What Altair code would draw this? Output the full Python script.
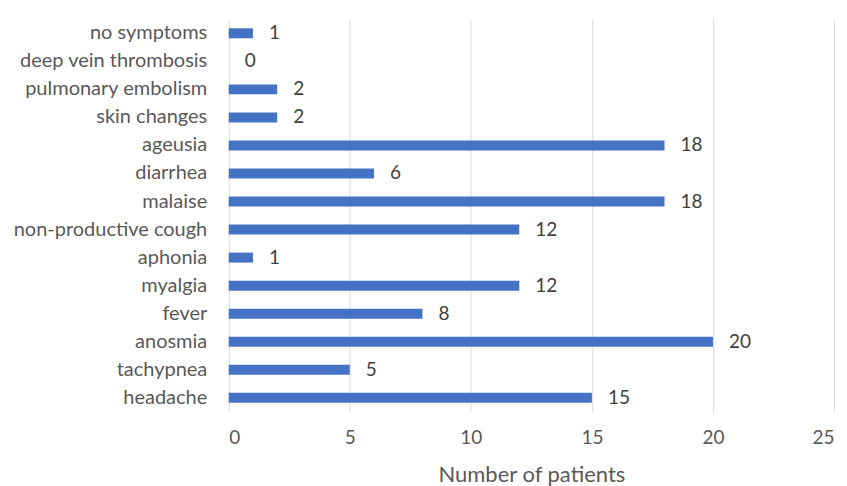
import altair as alt
import pandas as pd

categories = ["no symptoms", "deep vein thrombosis", "pulmonary embolism", "skin changes",
              "ageusia", "diarrhea", "malaise", "non-productive cough", "aphonia",
              "myalgia", "fever", "anosmia", "tachypnea", "headache"]
values = [1, 0, 2, 2, 18, 6, 18, 12, 1, 12, 8, 20, 5, 15]

df = pd.DataFrame({"symptom": categories, "patients": values})

FONT = "Lato"
GRAY = "#595959"

y = alt.Y("symptom:N", sort=categories, title=None,
          scale=alt.Scale(paddingInner=0.64, paddingOuter=0.32),
          axis=alt.Axis(labelFontSize=20, labelColor=GRAY, labelFont=FONT, labelLimit=400,
                        domain=False, ticks=False, labelPadding=22, grid=False))
x = alt.X("patients:Q", title="Number of patients",
          scale=alt.Scale(domain=[0, 25], nice=False),
          axis=alt.Axis(values=[0, 5, 10, 15, 20, 25], labelFontSize=19, labelColor=GRAY,
                        labelFont=FONT, titleFont=FONT, titleFontSize=22, titleColor=GRAY,
                        titleFontWeight="normal", domain=False, ticks=False, grid=True,
                        gridColor="#d9d9d9", labelPadding=17, titlePadding=17))

bars = alt.Chart(df).mark_bar(color="#4472C4", size=10).encode(x=x, y=y)
labels = alt.Chart(df).mark_text(align="left", dx=16, fontSize=19, color="#404040", font=FONT).encode(
    x="patients:Q", y=alt.Y("symptom:N", sort=categories), text="patients:Q")

chart = (bars + labels).properties(
    width=606, height=393,
    padding={"left": 5, "top": 11, "right": 5, "bottom": 5}
).configure_view(stroke=None)

chart.save("out.html", embed_options={"renderer": "svg", "actions": False})
